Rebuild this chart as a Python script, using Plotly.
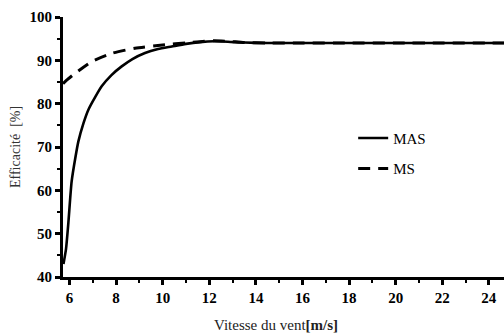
import plotly.graph_objects as go

# Data
mas_x = [5.74, 5.85, 5.95, 6.09, 6.25, 6.38, 6.6, 6.81, 7.1, 7.38, 7.8, 8.24, 8.7,
         9.24, 9.8, 10.39, 11.0, 11.6, 12.2, 12.8, 13.5, 14.5, 16, 18, 20, 22, 24, 24.7]
mas_y = [43.0, 46.5, 52.5, 62.0, 67.5, 71.3, 75.5, 78.6, 81.5, 84.0, 86.6, 88.6, 90.3,
         91.7, 92.6, 93.2, 93.8, 94.2, 94.4, 94.3, 94.1, 94.0, 94.0, 94.0, 94.0, 94.0, 94.0, 94.0]

ms_x = [5.72, 5.81, 6.24, 6.95, 7.81, 8.81, 10.1, 11.0, 11.6, 12.2, 12.8, 13.5, 14.5,
        16, 18, 20, 22, 24, 24.7]
ms_y = [84.6, 85.1, 87.0, 89.7, 91.6, 92.8, 93.6, 94.0, 94.3, 94.5, 94.4, 94.1, 94.0,
        94.0, 94.0, 94.0, 94.0, 94.0, 94.0]

x_ticks = [6, 8, 10, 12, 14, 16, 18, 20, 22, 24]
y_ticks = [40, 50, 60, 70, 80, 90, 100]

serif = "Liberation Serif, Times New Roman, Times, serif"

fig = go.Figure()
fig.add_trace(go.Scatter(x=mas_x, y=mas_y, mode="lines", name="MAS",
                         line=dict(color="black", width=2.6, shape="spline", smoothing=0.6),
                         legendgroup="a"))
fig.add_trace(go.Scatter(x=ms_x, y=ms_y, mode="lines", name="MS",
                         line=dict(color="black", width=3, dash="12px,8px", shape="spline", smoothing=0.6),
                         legendgroup="b"))

tickfont = dict(family=serif, size=15, color="black", weight="bold")

fig.update_layout(
    width=504, height=336,
    margin=dict(l=63, r=0, t=17, b=59),
    paper_bgcolor="white", plot_bgcolor="white",
    font=dict(family=serif),
    showlegend=True,
    legend=dict(x=0.658, y=0.597, xanchor="left", yanchor="top",
                bgcolor="rgba(0,0,0,0)", tracegroupgap=8,
                font=dict(family=serif, size=15, color="black")),
    xaxis=dict(range=[5.72, 24.65], tickvals=x_ticks, showgrid=False, zeroline=False,
               showline=True, linecolor="black", linewidth=3,
               ticks="outside", ticklen=5, tickwidth=2.5, tickcolor="black",
               tickfont=tickfont,
               minor=dict(dtick=1, tick0=5, ticks="outside", ticklen=3, tickwidth=2, tickcolor="black")),
    yaxis=dict(range=[40, 100], tickvals=y_ticks, showgrid=False, zeroline=False,
               showline=True, linecolor="black", linewidth=3,
               ticks="outside", ticklen=5, tickwidth=2.5, tickcolor="black",
               tickfont=tickfont,
               minor=dict(dtick=5, tick0=45, ticks="outside", ticklen=3, tickwidth=2, tickcolor="black")),
    annotations=[
        dict(text="Vitesse du vent<b>[m/s]</b>", xref="paper", yref="paper",
             x=(276 - 63) / 441, y=0, yshift=-48, xanchor="center", yanchor="middle",
             showarrow=False, font=dict(family=serif, size=15, color="#222")),
        dict(text="Efficacité  [%]", xref="paper", yref="paper", textangle=-90,
             x=0, xshift=-48, y=(277 - 147) / 260, xanchor="center", yanchor="middle",
             showarrow=False, font=dict(family=serif, size=14, color="#333")),
    ],
)

fig.write_html("out.html")
